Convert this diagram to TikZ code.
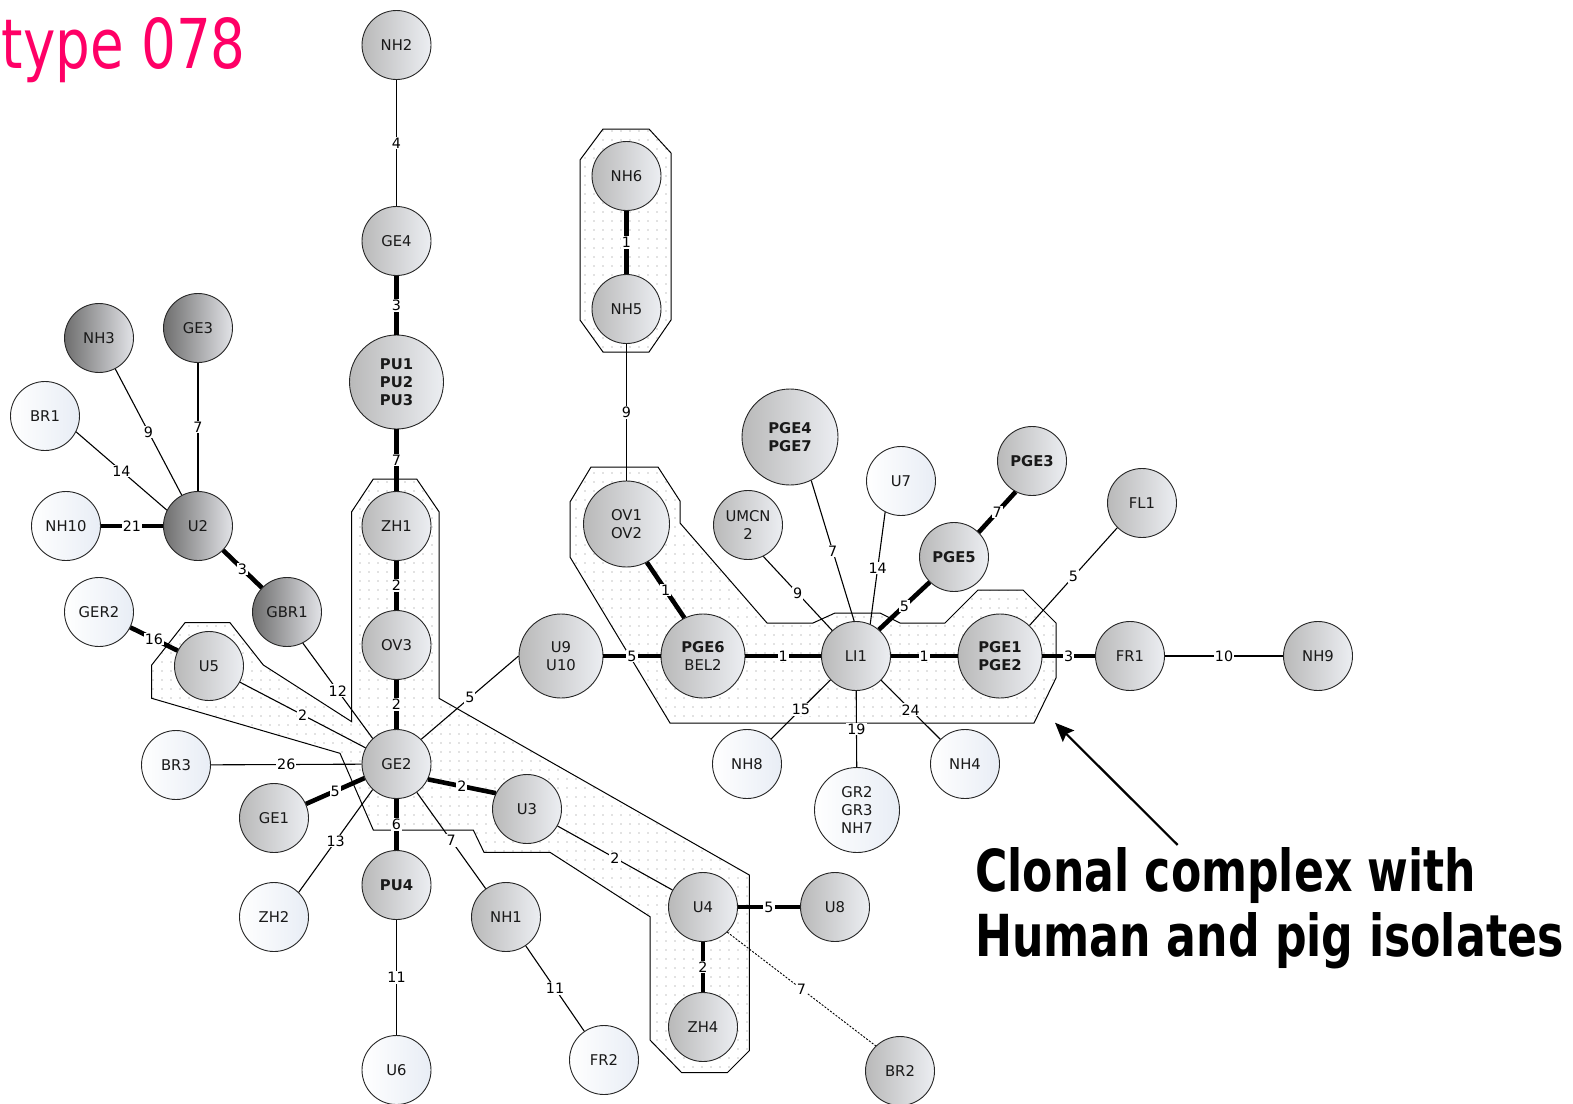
\documentclass[tikz,border=0pt]{standalone}
\usepackage{fontspec}
\setmainfont{DejaVu Sans}
\usetikzlibrary{arrows.meta,patterns.meta}
\definecolor{dkL}{HTML}{6E6E6E}
\definecolor{dkR}{HTML}{E2E3E7}
\definecolor{mdL}{HTML}{B9B9B9}
\definecolor{mdR}{HTML}{ECEEF2}
\definecolor{wtL}{HTML}{FFFFFF}
\definecolor{wtR}{HTML}{E8EDF5}
\definecolor{titlepink}{HTML}{FF0066}
\begin{document}
\begin{tikzpicture}[x=1pt,y=-1pt,
  nd/.style={circle,draw=black!85,line width=0.9pt,minimum size=69pt,inner sep=0pt,
    align=center,text=black!90,font=\fontsize{14.8}{18}\selectfont},
  dk/.style={left color=dkL,right color=dkR},
  md/.style={left color=mdL,right color=mdR},
  wt/.style={left color=wtL,right color=wtR},
  sz/.style={minimum size=#1},
  lab/.style={fill=white,inner sep=1pt,font=\fontsize{14.3}{14}\selectfont,text=black},
  ln/.style={line width=1.1pt},
  tk/.style={line width=4.6pt},
  hull/.style={draw=black,line width=1pt,pattern={Dots[distance=9pt,radius=0.65pt]},pattern color=black!50}
]
\useasboundingbox (0,0) rectangle (1573,1103);

% clonal complex hulls
\path[hull] (603,129) -- (649,129) -- (671,153) -- (671,320) -- (649,352) -- (603,352) -- (580,320) -- (580,160) -- cycle;
\path[hull] (373.3,479) -- (416.7,479) -- (439,511.7) -- (439,698.3) -- (749.3,875) -- (749.3,1050.7)
  -- (727.3,1072.7) -- (681.7,1072.7) -- (650,1040) -- (650,916.7) -- (550,852.3) -- (484,852.3)
  -- (473.3,830) -- (373.3,830) -- (340,753.3) -- (151.7,698.3) -- (151.7,665) -- (185,622.7)
  -- (230,622.7) -- (263.3,665) -- (351.7,721.7) -- (351.7,511.7) -- cycle;
\path[hull] (591,467) -- (658,467) -- (680,501) -- (680,523) -- (767,623) -- (813,623) -- (835,613)
  -- (880,613) -- (900,623) -- (945,623) -- (978,590) -- (1023,590) -- (1056,623) -- (1056,678)
  -- (1034,723) -- (670,723) -- (570,557) -- (570,502) -- cycle;

% isolates
\node[nd,md] (NH2) at (396.5,45) {NH2};
\node[nd,md] (GE4) at (396.5,241) {GE4};
\node[nd,md,sz=94pt,font=\fontsize{14.8}{18}\bfseries] (PU1) at (396.5,382) {PU1\\PU2\\PU3};
\node[nd,md] (ZH1) at (396.5,526) {ZH1};
\node[nd,md] (OV3) at (396.5,645) {OV3};
\node[nd,md] (GE2) at (396.5,764) {GE2};
\node[nd,md,font=\fontsize{14.8}{18}\bfseries] (PU4) at (396.5,885) {PU4};
\node[nd,wt] (U6) at (396.5,1070) {U6};
\node[nd,dk] (NH3) at (99,338) {NH3};
\node[nd,dk] (GE3) at (198,328) {GE3};
\node[nd,wt] (BR1) at (45,416) {BR1};
\node[nd,wt] (NH10) at (66,526) {NH10};
\node[nd,dk] (U2) at (198,526) {U2};
\node[nd,dk] (GBR1) at (287,612) {GBR1};
\node[nd,wt] (GER2) at (99,612) {GER2};
\node[nd,md] (U5) at (209,666) {U5};
\node[nd,wt] (BR3) at (176,765) {BR3};
\node[nd,md] (GE1) at (274,818) {GE1};
\node[nd,wt] (ZH2) at (274,917) {ZH2};
\node[nd,md] (NH1) at (506,917) {NH1};
\node[nd,wt] (FR2) at (604,1060) {FR2};
\node[nd,md] (U3) at (527,809) {U3};
\node[nd,md] (U4) at (703,907) {U4};
\node[nd,md] (U8) at (835,907) {U8};
\node[nd,md] (ZH4) at (703,1027) {ZH4};
\node[nd,md] (BR2) at (900,1071) {BR2};
\node[nd,md] (NH6) at (626.5,176) {NH6};
\node[nd,md] (NH5) at (626.5,309) {NH5};
\node[nd,md,sz=86pt] (OV1) at (626.5,524) {OV1\\OV2};
\node[nd,md,sz=84pt] (U9) at (561,656) {U9\\U10};
\node[nd,md,sz=84pt] (PGE6) at (703,656) {\textbf{PGE6}\\BEL2};
\node[nd,md] (UMCN) at (748,525) {UMCN\\2};
\node[nd,md,sz=96pt,font=\fontsize{14.8}{18}\bfseries] (PGE4) at (790,437) {PGE4\\PGE7};
\node[nd,wt] (U7) at (901,481) {U7};
\node[nd,md,font=\fontsize{14.8}{18}\bfseries] (PGE3) at (1032,461) {PGE3};
\node[nd,md,font=\fontsize{14.8}{18}\bfseries] (PGE5) at (954,557) {PGE5};
\node[nd,md] (FL1) at (1142,503) {FL1};
\node[nd,md] (LI1) at (856,656) {LI1};
\node[nd,md,sz=84pt,font=\fontsize{14.8}{18}\bfseries] (PGE1) at (1000,656) {PGE1\\PGE2};
\node[nd,md] (FR1) at (1130,656) {FR1};
\node[nd,md] (NH9) at (1318,656) {NH9};
\node[nd,wt] (NH8) at (747,764) {NH8};
\node[nd,wt,sz=85pt] (GR2) at (857,810) {GR2\\GR3\\NH7};
\node[nd,wt] (NH4) at (965,764) {NH4};

% single- and few-locus links
\draw[ln] (NH2) -- node[lab]{4} (GE4);
\draw[ln] (NH3) -- node[lab]{9} (U2);
\draw[ln] (GE3) -- node[lab]{7} (U2);
\draw[ln] (BR1.-27) -- node[lab]{14} (U2.153);
\draw[ln] (GBR1.-63) -- node[lab]{12} (GE2.133);
\draw[ln] (U5) -- node[lab]{2} (GE2);
\draw[ln] (BR3) -- node[lab]{26} (GE2);
\draw[ln] (ZH2.45) -- node[lab]{13} (GE2.-133);
\draw[ln] (GE2) -- node[lab]{7} (NH1);
\draw[ln] (NH1) -- node[lab]{11} (FR2);
\draw[ln] (PU4) -- node[lab]{11} (U6);
\draw[ln] (GE2.45) -- node[lab]{5} (U9.180);
\draw[ln] (U3) -- node[lab]{2} (U4);
\draw[line width=0.9pt,dash pattern=on 2pt off 1.5pt] (U4.-46) -- node[lab]{7} (BR2.134);
\draw[ln] (NH5) -- node[lab]{9} (OV1);
\draw[ln] (UMCN.-64) -- node[lab]{9} (LI1.133);
\draw[ln] (PGE4.-64) -- node[lab]{7} (LI1.93);
\draw[ln] (U7.-117) -- node[lab]{14} (LI1.66);
\draw[ln] (PGE1.46) -- node[lab]{5} (FL1.-135);
\draw[ln] (FR1) -- node[lab]{10} (NH9);
\draw[ln] (LI1.-137) -- node[lab]{15} (NH8.46);
\draw[ln] (LI1) -- node[lab]{19} (GR2);
\draw[ln] (LI1.-44) -- node[lab]{24} (NH4.135);

\draw[tk] (NH10) -- node[lab]{21} (U2);
\draw[tk] (U2) -- node[lab]{3} (GBR1);
\draw[tk] (GER2) -- node[lab]{16} (U5);
\draw[tk] (GE4) -- node[lab]{3} (PU1);
\draw[tk] (PU1) -- node[lab]{7} (ZH1);
\draw[tk] (ZH1) -- node[lab]{2} (OV3);
\draw[tk] (OV3) -- node[lab]{2} (GE2);
\draw[tk] (GE1) -- node[lab]{5} (GE2);
\draw[tk] (GE2.-26) -- node[lab]{2} (U3.153);
\draw[tk] (GE2) -- node[lab]{6} (PU4);
\draw[tk] (U4) -- node[lab]{5} (U8);
\draw[tk] (U4) -- node[lab]{2} (ZH4);
\draw[tk] (NH6) -- node[lab]{1} (NH5);
\draw[tk] (OV1.-62) -- node[lab]{1} (PGE6.116);
\draw[tk] (U9) -- node[lab]{5} (PGE6);
\draw[tk] (PGE6) -- node[lab]{1} (LI1);
\draw[tk] (LI1) -- node[lab]{1} (PGE1);
\draw[tk] (LI1.49) -- node[lab]{5} (PGE5.-134);
\draw[tk] (PGE5.45) -- node[lab]{7} (PGE3.-118);
\draw[tk] (PGE1) -- node[lab]{3} (FR1);

% heading
\node[anchor=base east,inner sep=0pt,text=titlepink] (title) at (246,68)
  {\resizebox{244pt}{51pt}{type 078}};

% callout
\node[anchor=base west,inner sep=0pt] (cc1) at (975,891)
  {\resizebox{501pt}{44pt}{\bfseries Clonal complex with}};
\node[anchor=base west,inner sep=0pt] (cc2) at (975,956)
  {\resizebox{588pt}{44pt}{\bfseries Human and pig isolates}};
\coordinate (arrtail) at (1177.7,845);
\coordinate (arrtip) at (1055,722.7);
\draw[line width=2.2pt,-{Stealth[length=19pt,width=16pt,inset=3pt]}] (arrtail) -- (arrtip);
\end{tikzpicture}
\end{document}
